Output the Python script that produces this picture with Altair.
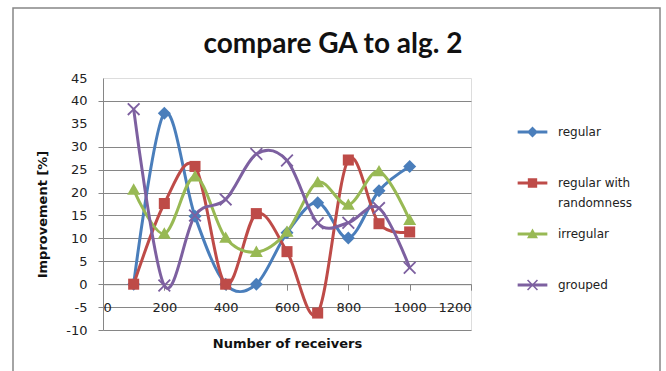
import altair as alt
import pandas as pd

receivers = [100, 200, 300, 400, 500, 600, 700, 800, 900, 1000]
regular = [0, 37.3, 14.8, 0, 0, 11.2, 17.8, 10.1, 20.4, 25.7]
regular_rand = [0, 17.6, 25.7, 0, 15.4, 7.1, -6.3, 27.1, 13.2, 11.4]
irregular = [20.6, 11.0, 23.5, 10.1, 7.0, 11.4, 22.2, 17.3, 24.6, 14.0]
grouped = [38.2, -0.3, 15.0, 18.5, 28.4, 27.0, 13.3, 13.4, 16.6, 3.6]
series_names = ["regular", "regular with randomness", "irregular", "grouped"]
colors = ["#4A7EBB", "#BE4B48", "#98B954", "#7D60A0"]
x_ticks = [0, 200, 400, 600, 800, 1000, 1200]
y_ticks = [-10, -5, 0, 5, 10, 15, 20, 25, 30, 35, 40, 45]

rows = []
for name, vals in zip(series_names, [regular, regular_rand, irregular, grouped]):
    for xv, yv in zip(receivers, vals):
        rows.append({"receivers": xv, "improvement": yv, "series": name})
df = pd.DataFrame(rows)

TFONT = "Lato"
FONT = "DejaVu Sans"
GRAY = "#868686"

# marker shapes (unit coords)
d = 0.2
x_path = (f"M{-1+d},-1L0,{-d}L{1-d},-1L1,{-1+d}L{d},0L1,{1-d}L{1-d},1L0,{d}"
          f"L{-1+d},1L-1,{1-d}L{-d},0L-1,{-1+d}Z")
markers = ["M0,-1L1,0L0,1L-1,0Z", "M-0.85,-0.85H0.85V0.85H-0.85Z", "M0,-1L1,0.75H-1Z", x_path]
bar = "M-2.7,-0.28H2.7V0.28H-2.7Z"
legend_paths = [bar + m for m in markers]

x_enc = alt.X("receivers:Q", scale=alt.Scale(domain=[0, 1200], nice=False),
              axis=alt.Axis(values=x_ticks, format="d", title="Number of receivers", grid=False,
                            offset=-45.8, domainColor=GRAY, tickColor=GRAY, tickSize=6,
                            labelFont=FONT, labelFontSize=13, labelColor="#222",
                            labelPadding=11, titleFont=FONT, titleFontSize=13,
                            titleFontWeight="bold", titleColor="#111",
                            titleY=58.8, titleBaseline="middle"))
y_enc = alt.Y("improvement:Q", scale=alt.Scale(domain=[-10, 45], nice=False),
              axis=alt.Axis(values=y_ticks, title="Improvement [%]",
                            labelExpr="replace(datum.label, '\u2212', '-')",
                            gridColor=GRAY,
                            gridOpacity=alt.condition("datum.value == 35 || datum.value == 45",
                                                      alt.value(0), alt.value(1)),
                            tickOpacity=alt.condition("datum.value == 35 || datum.value == 45",
                                                      alt.value(0), alt.value(1)),
                            domainColor=GRAY, tickColor=GRAY, tickSize=5,
                            labelFont=FONT, labelFontSize=13, labelColor="#222",
                            labelPadding=11, titleFont=FONT, titleFontSize=13,
                            titleFontWeight="bold", titleColor="#111",
                            titleX=-61, titleY=136, titleBaseline="middle"))

color_scale = alt.Scale(domain=series_names, range=colors)

base = alt.Chart(df)
lines = base.mark_line(interpolate="cardinal", strokeWidth=3).encode(
    x=x_enc, y=y_enc,
    color=alt.Color("series:N", scale=color_scale, legend=None, sort=series_names),
)
points = base.mark_point(filled=True, size=169, opacity=1).encode(
    x=x_enc, y=y_enc,
    color=alt.Color("series:N", scale=color_scale, legend=None, sort=series_names),
    shape=alt.Shape("series:N", scale=alt.Scale(domain=series_names, range=markers), legend=None),
)
leg = alt.Legend(orient="none", legendX=423.5, legendY=48, title=None, padding=0,
                 symbolSize=121, symbolStrokeWidth=0, labelFont=FONT, labelFontSize=12,
                 labelColor="#222", labelOffset=19.5, rowPadding=19,
                 labelExpr="datum.label == 'regular with randomness' ? ['regular with', 'randomness'] : [datum.label, ' ']")
legend_layer = base.mark_point(filled=True, opacity=1).encode(
    x=x_enc, y=y_enc,
    color=alt.Color("series:N", scale=color_scale, legend=leg),
    shape=alt.Shape("series:N", scale=alt.Scale(domain=series_names, range=legend_paths), legend=leg),
).transform_filter("false")

border = alt.Chart(pd.DataFrame({"k": [0]})).mark_rect(
    fillOpacity=0, stroke=GRAY, strokeWidth=1.5
).encode(x=alt.value(-90), x2=alt.value(557), y=alt.value(-70), y2=alt.value(330))

chart = alt.layer(border, lines, points, legend_layer).resolve_scale(
    color="independent", shape="independent"
).properties(
    width=368, height=252,
    title=alt.TitleParams("compare GA to alg. 2", font=TFONT, fontSize=28, fontWeight="bold",
                          color="#111", anchor="middle", dx=46, offset=-52),
    autosize=alt.AutoSizeParams(type="none"),
    padding={"left": 103, "top": 78, "right": 195, "bottom": 41},
    background="white",
).configure_view(stroke=None).configure(style={"guide-label": {"lineHeight": 20}})

chart.save("out.html", embed_options={"renderer": "svg", "actions": False})
